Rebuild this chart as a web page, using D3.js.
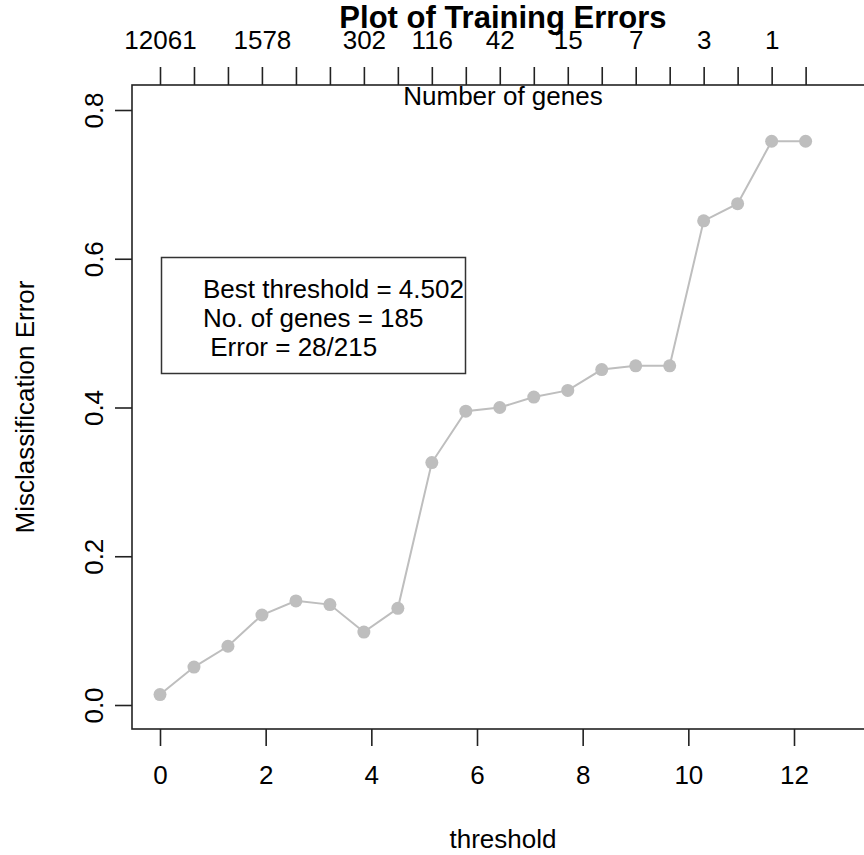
<!DOCTYPE html>
<html>
<head>
<meta charset="utf-8">
<script src="https://cdn.jsdelivr.net/npm/d3@7/dist/d3.min.js"></script>
<style>
  html, body { margin: 0; padding: 0; background: #fff; }
  svg { display: block; font-family: "Liberation Sans", Arial, Helvetica, sans-serif; }
</style>
</head>
<body>
<svg id="chart" width="864" height="855"></svg>
<script>
// ---- data ----
const thresholds = [0, 0.643, 1.286, 1.929, 2.573, 3.216, 3.859, 4.502, 5.145, 5.788,
                    6.431, 7.075, 7.718, 8.361, 9.004, 9.647, 10.290, 10.933, 11.577, 12.220];
const errors = [0.014, 0.051, 0.079, 0.121, 0.140, 0.135, 0.098, 0.130, 0.326, 0.395,
                0.400, 0.414, 0.423, 0.451, 0.456, 0.456, 0.651, 0.674, 0.758, 0.758];
const geneLabels = ["12061", "", "", "1578", "", "", "302", "", "116", "",
                    "42", "", "15", "", "7", "", "3", "", "1", ""];
const xTicks = [0, 2, 4, 6, 8, 10, 12];
const yTicks = [0.0, 0.2, 0.4, 0.6, 0.8];
const legendLines = ["Best threshold = 4.502", "No. of genes = 185", " Error = 28/215"];
const titleText = "Plot of Training Errors";
const xLabel = "threshold";
const yLabel = "Misclassification Error";
const topLabel = "Number of genes";

// ---- layout ----
const box = { left: 132, top: 85, right: 874, bottom: 729 };
const svg = d3.select("#chart");
const x = d3.scaleLinear().domain([0, 12]).range([160, 794]);
const y = d3.scaleLinear().domain([0, 0.8]).range([705, 110]);
const axisColor = "#222";
const fs = 26;

// box
svg.append("rect")
  .attr("x", box.left).attr("y", box.top)
  .attr("width", box.right - box.left).attr("height", box.bottom - box.top)
  .attr("fill", "none").attr("stroke", axisColor).attr("stroke-width", 1.6);

function styleAxis(g) {
  g.select(".domain").remove();
  g.selectAll(".tick line").attr("stroke", axisColor).attr("stroke-width", 1.6);
  g.selectAll(".tick text").attr("fill", "#000").style("font-size", fs + "px")
    .style("font-family", "'Liberation Sans', Arial, sans-serif");
}

// bottom axis
svg.append("g").attr("transform", `translate(0,${box.bottom})`)
  .call(d3.axisBottom(x).tickValues(xTicks).tickFormat(d3.format("d")).tickSize(17).tickPadding(20))
  .call(styleAxis);

// left axis
const gl = svg.append("g").attr("transform", `translate(${box.left},0)`)
  .call(d3.axisLeft(y).tickValues(yTicks).tickFormat(d3.format(".1f")).tickSize(17).tickPadding(0))
  .call(styleAxis);
gl.selectAll(".tick text")
  .attr("x", null).attr("dy", null)
  .attr("text-anchor", "middle")
  .attr("transform", "translate(-29,0) rotate(-90)");

// top axis
const gt = svg.append("g").attr("transform", `translate(0,${box.top})`)
  .call(d3.axisTop(x).tickValues(thresholds).tickFormat((d, i) => geneLabels[i]).tickSize(18).tickPadding(18))
  .call(styleAxis);

// title
svg.append("text").attr("x", (box.left + box.right) / 2).attr("y", 28)
  .attr("text-anchor", "middle").style("font-size", "31px").style("font-weight", "bold")
  .text(titleText);

// top label inside box
svg.append("text").attr("x", (box.left + box.right) / 2).attr("y", 105)
  .attr("text-anchor", "middle").style("font-size", fs + "px").text(topLabel);

// x label
svg.append("text").attr("x", (box.left + box.right) / 2).attr("y", 848)
  .attr("text-anchor", "middle").style("font-size", fs + "px").text(xLabel);

// y label
svg.append("text").attr("transform", `translate(34,${(box.top + box.bottom) / 2}) rotate(-90)`)
  .attr("text-anchor", "middle").style("font-size", fs + "px").text(yLabel);

// line + points
const pts = thresholds.map((t, i) => [t, errors[i]]);
svg.append("path").datum(pts)
  .attr("d", d3.line().x(d => x(d[0])).y(d => y(d[1])))
  .attr("fill", "none").attr("stroke", "#bebebe").attr("stroke-width", 2);
svg.append("g").selectAll("circle").data(pts).join("circle")
  .attr("cx", d => x(d[0])).attr("cy", d => y(d[1])).attr("r", 6.5)
  .attr("fill", "#bebebe");

// legend box
svg.append("rect").attr("x", 161.5).attr("y", 257.5).attr("width", 304).attr("height", 116)
  .attr("fill", "none").attr("stroke", "#333").attr("stroke-width", 1.5);
svg.append("g").selectAll("text").data(legendLines).join("text")
  .attr("x", 203).attr("y", (d, i) => 298 + i * 29)
  .attr("xml:space", "preserve").style("white-space", "pre")
  .style("font-size", fs + "px").text(d => d);
</script>
</body>
</html>
